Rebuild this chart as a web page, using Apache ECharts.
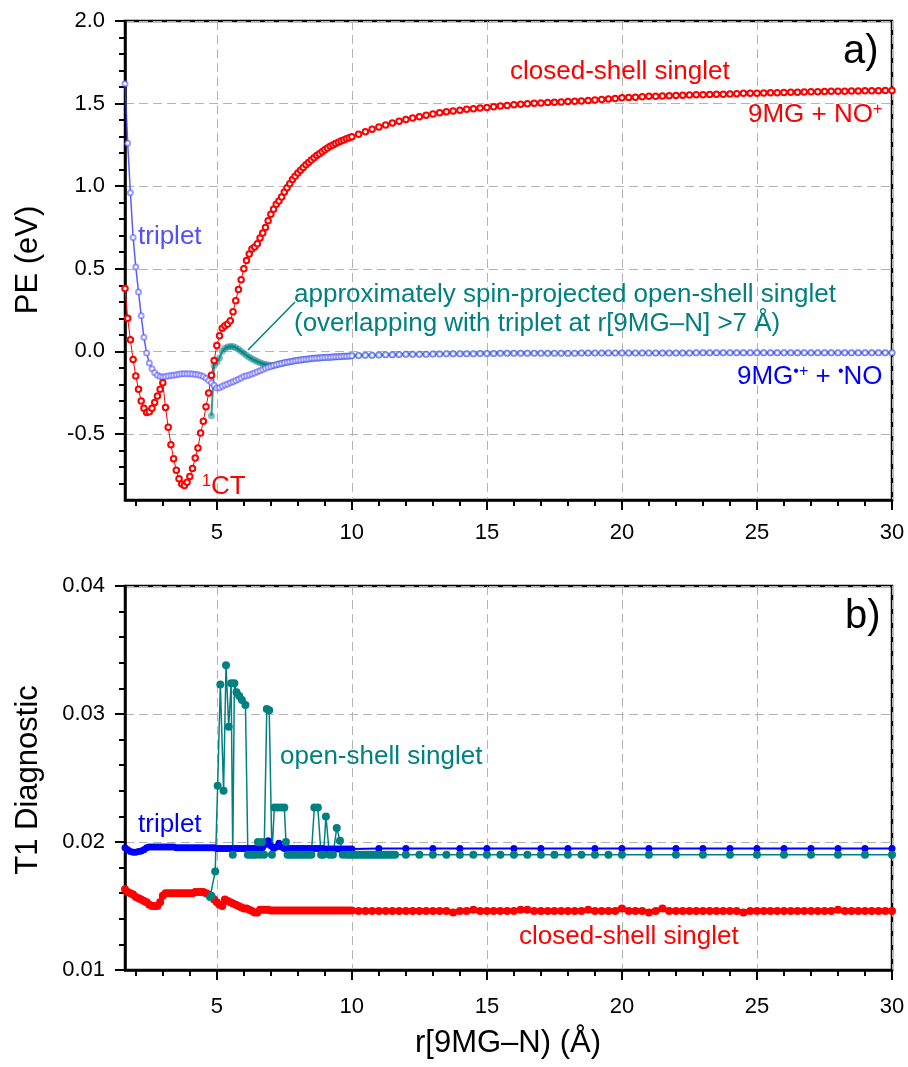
<!DOCTYPE html>
<html><head><meta charset="utf-8">
<script src="https://cdn.jsdelivr.net/npm/echarts@6/dist/echarts.min.js"></script>
<style>html,body{margin:0;padding:0;background:#fff}#c{width:908px;height:1067px}</style>
</head><body><div id="c"></div>
<script>
// r[9MG-N] grid (Å)
const rGrid = [1.6,1.7,1.8,1.9,
2.0,2.1,2.2,2.3,2.4,2.5,2.6,2.7,2.8,2.9,
3.0,3.1,3.2,3.3,3.4,3.5,3.6,3.7,3.8,3.9,
4.0,4.1,4.2,4.3,4.4,4.5,4.6,4.7,4.8,4.9,
5.0,5.1,5.2,5.3,5.4,5.5,5.6,5.7,5.8,5.9,
6.0,6.1,6.2,6.3,6.4,6.5,6.6,6.7,6.8,6.9,
7.0,7.1,7.2,7.3,7.4,7.5,7.6,7.7,7.8,7.9,
8.0,8.1,8.2,8.3,8.4,8.5,8.6,8.7,8.8,8.9,
9.0,9.1,9.2,9.3,9.4,9.5,9.6,9.7,9.8,9.9,
10.0,
10.25,10.5,10.75,11,11.25,11.5,11.75,12,12.25,12.5,12.75,13,13.25,13.5,13.75,14,
14.25,14.5,14.75,15,15.25,15.5,15.75,16,16.25,16.5,16.75,17,17.25,17.5,17.75,18,
18.25,18.5,18.75,19,19.25,19.5,19.75,20,20.25,20.5,20.75,21,21.25,21.5,21.75,22,
22.25,22.5,22.75,23,23.25,23.5,23.75,24,24.25,24.5,24.75,25,25.25,25.5,25.75,26,
26.25,26.5,26.75,27,27.25,27.5,27.75,28,28.25,28.5,28.75,29,29.25,29.5,29.75,30];

// a) potential energy (eV)
const peClosed = [0.38,0.20,0.07,-0.05,
-0.15,-0.23,-0.30,-0.345,-0.37,-0.365,-0.345,-0.31,-0.27,-0.23,
-0.19,-0.34,-0.46,-0.565,-0.65,-0.72,-0.772,-0.803,-0.812,-0.792,
-0.757,-0.71,-0.645,-0.585,-0.495,-0.423,-0.335,-0.252,-0.145,-0.055,
0.035,0.095,0.14,0.155,0.165,0.185,0.24,0.306,0.374,0.434,
0.50,0.55,0.59,0.62,0.632,0.652,0.686,0.716,0.75,0.79,
0.83,0.86,0.89,0.91,0.935,0.965,0.99,1.015,1.04,1.06,
1.08,1.097,1.113,1.129,1.144,1.158,1.172,1.185,1.197,1.209,
1.22,1.231,1.241,1.25,1.258,1.266,1.273,1.28,1.287,1.293,
1.299,
1.315,1.330,1.345,1.358,1.370,1.382,1.393,1.403,1.412,1.421,1.429,1.437,1.444,1.450,1.455,1.460,
1.465,1.469,1.473,1.477,1.481,1.485,1.489,1.493,1.496,1.499,1.502,1.504,1.506,1.508,1.510,1.512,
1.514,1.516,1.519,1.522,1.525,1.528,1.531,1.535,1.537,1.539,1.541,1.545,1.544,1.546,1.548,1.549,
1.551,1.552,1.553,1.554,1.555,1.556,1.557,1.558,1.559,1.562,1.562,1.563,1.564,1.565,1.566,1.567,
1.568,1.569,1.570,1.571,1.572,1.573,1.574,1.574,1.575,1.576,1.576,1.577,1.578,1.578,1.579,1.579];

const peTriplet = [1.62,1.26,0.96,0.69,
0.51,0.36,0.215,0.085,-0.01,-0.07,-0.105,-0.13,-0.145,-0.153,
-0.155,-0.152,-0.149,-0.146,-0.144,-0.141,-0.138,-0.136,-0.135,-0.135,
-0.136,-0.137,-0.139,-0.142,-0.146,-0.152,-0.163,-0.176,-0.19,-0.205,
-0.222,-0.22,-0.212,-0.204,-0.197,-0.19,-0.184,-0.177,-0.169,-0.161,
-0.153,-0.148,-0.143,-0.137,-0.131,-0.124,-0.117,-0.11,-0.103,-0.097,
-0.091,-0.086,-0.081,-0.077,-0.073,-0.069,-0.066,-0.063,-0.06,-0.057,
-0.054,-0.052,-0.05,-0.048,-0.046,-0.044,-0.042,-0.041,-0.04,-0.038,
-0.037,-0.036,-0.035,-0.034,-0.033,-0.032,-0.031,-0.03,-0.029,-0.028,
-0.027,
-0.025,-0.024,-0.023,-0.022,-0.021,-0.020,-0.019,-0.018,-0.018,-0.017,-0.017,-0.016,-0.016,-0.015,-0.015,-0.014,
-0.014,-0.014,-0.013,-0.013,-0.013,-0.012,-0.012,-0.012,-0.012,-0.011,-0.011,-0.011,-0.011,-0.011,-0.011,-0.011,
-0.011,-0.010,-0.010,-0.010,-0.010,-0.010,-0.010,-0.010,-0.010,-0.010,-0.010,-0.010,-0.010,-0.010,-0.010,-0.010,
-0.010,-0.010,-0.009,-0.009,-0.009,-0.009,-0.009,-0.009,-0.009,-0.009,-0.009,-0.009,-0.009,-0.009,-0.009,-0.009,
-0.009,-0.009,-0.008,-0.008,-0.008,-0.008,-0.008,-0.008,-0.008,-0.008,-0.008,-0.008,-0.008,-0.008,-0.008,-0.008];

const peOpen = [null,null,null,null,
null,null,null,null,null,null,null,null,null,null,
null,null,null,null,null,null,null,null,null,null,
null,null,null,null,null,null,null,null,-0.39,-0.085,
-0.065,-0.04,0.0,0.018,0.026,0.03,0.03,0.022,0.012,0.0,
-0.012,-0.024,-0.035,-0.045,-0.054,-0.062,-0.069,-0.075,-0.08,-0.083,
-0.086,-0.085,-0.081,-0.077,-0.073,-0.069,-0.066,-0.063,-0.06,-0.057,
-0.054,-0.052,-0.05,-0.048,-0.046,-0.044,-0.042,-0.041,-0.04,-0.038,
-0.037,-0.036,-0.035,-0.034,-0.033,-0.032,-0.031,-0.03,-0.029,-0.028,
-0.027,
-0.025,-0.024,-0.023,-0.022,-0.021,-0.020,-0.019,-0.018,-0.018,-0.017,-0.017,-0.016,-0.016,-0.015,-0.015,-0.014,
-0.014,-0.014,-0.013,-0.013,-0.013,-0.012,-0.012,-0.012,-0.012,-0.011,-0.011,-0.011,-0.011,-0.011,-0.011,-0.011,
-0.011,-0.010,-0.010,-0.010,-0.010,-0.010,-0.010,-0.010,-0.010,-0.010,-0.010,-0.010,-0.010,-0.010,-0.010,-0.010,
-0.010,-0.010,-0.009,-0.009,-0.009,-0.009,-0.009,-0.009,-0.009,-0.009,-0.009,-0.009,-0.009,-0.009,-0.009,-0.009,
-0.009,-0.009,-0.008,-0.008,-0.008,-0.008,-0.008,-0.008,-0.008,-0.008,-0.008,-0.008,-0.008,-0.008,-0.008,-0.008];

// b) T1 diagnostic
const t1Closed = [0.0163,0.0161,0.0160,0.0159,
0.0157,0.0156,0.0155,0.0154,0.0153,0.0151,0.0150,0.0150,0.0150,0.0153,
0.0158,0.0160,0.0160,0.0160,0.0160,0.0160,0.0160,0.0160,0.0160,0.0160,
0.0160,0.0160,0.0161,0.0161,0.0161,0.0161,0.0160,0.0159,0.0157,0.0155,
0.0153,0.0151,0.0150,0.0155,0.0154,0.0153,0.0152,0.0151,0.0150,0.0149,
0.0148,0.0148,0.0147,0.0146,0.0145,0.0145,0.0147,0.0147,0.0147,0.0147,
0.01465,0.01465,0.01465,0.01465,0.01465,0.01465,0.01465,0.01465,0.01465,0.01465,
0.01465,0.01465,0.01465,0.01465,0.01465,0.01465,0.01465,0.01465,0.01465,0.01465,
0.01465,0.01465,0.01465,0.01465,0.01465,0.01465,0.01465,0.01465,0.01465,0.01465,
0.01465,
0.0146,0.0146,0.0146,0.0146,0.0146,0.0146,0.0146,0.0146,0.0146,0.0146,0.0146,0.0146,0.0146,0.0146,0.0145,0.0146,
0.0146,0.0147,0.0146,0.0146,0.0146,0.0146,0.0146,0.0146,0.0147,0.0147,0.0146,0.0146,0.0146,0.0146,0.0146,0.0146,
0.0146,0.0146,0.0147,0.0146,0.0146,0.0146,0.0146,0.0148,0.0146,0.0146,0.0146,0.0145,0.0146,0.0148,0.0146,0.0146,
0.0146,0.0146,0.0146,0.0146,0.0146,0.0146,0.0146,0.0146,0.0146,0.0145,0.0146,0.0146,0.0146,0.0146,0.0146,0.0146,
0.0146,0.0146,0.0146,0.0146,0.0146,0.0146,0.0146,0.0147,0.0146,0.0146,0.0146,0.0146,0.0146,0.0146,0.0146,0.0146];

const t1Triplet = [0.01955,0.0194,0.01925,0.0192,
0.0192,0.01925,0.0193,0.0194,0.01955,0.0196,0.0196,0.0196,0.0196,0.0196,
0.0196,0.0196,0.0196,0.0196,0.0196,0.01955,0.01955,0.01955,0.01955,0.01955,
0.01955,0.01955,0.01955,0.01955,0.01955,0.01955,0.01955,0.01955,0.01955,0.01955,
0.0195,0.0195,0.0195,0.0195,0.0195,0.0195,0.0195,0.0195,0.0195,0.0195,
0.0195,0.0195,0.0195,0.0195,0.0195,0.0195,0.0195,0.0196,0.0198,0.0201,
0.0197,0.0195,0.0196,0.0199,0.0196,0.0195,0.0195,0.0195,0.0195,0.0195,
0.0195,0.0195,0.0195,0.0195,0.0195,0.0195,0.0195,0.0195,0.0195,0.0195,
0.01945,0.01945,0.01945,0.01945,0.01945,0.01945,0.01945,0.01945,0.01945,0.01945,
0.01945,
null,null,null,0.0195,null,null,null,0.0195,null,null,null,0.0195,null,null,null,0.0195,
null,null,null,0.0195,null,null,null,0.0195,null,null,null,0.0195,null,null,null,0.0195,
null,null,null,0.0195,null,null,null,0.0195,null,null,null,0.0195,null,null,null,0.0195,
null,null,null,0.0195,null,null,null,0.0195,null,null,null,0.0195,null,null,null,0.0195,
null,null,null,0.0195,null,null,null,0.0195,null,null,null,0.0195,null,null,null,0.0195];

const t1OpenR = [4.75,4.8,4.94,5.03,5.13,5.25,5.34,5.44,5.53,5.59,5.65,5.73,5.83,5.93,6.06,
6.15,6.25,6.35,6.45,6.52,6.6,6.67,6.75,6.85,6.94,7.04,7.13,7.25,7.38,7.5,7.56,7.62,
7.7,7.8,7.9,8.0,8.1,8.2,8.3,8.4,8.5,8.61,8.74,8.86,8.95,9.04,9.17,9.3,9.44,9.56,9.66,
9.8,9.9,10.0,10.1,10.2,10.3,10.4,10.5,10.6,10.7,10.8,10.9,11.0,11.1,11.2,11.3,11.4,11.5,11.6,
12,12.5,13,13.5,14,14.5,15,15.5,16,16.5,17,17.5,18,18.5,19,19.5,20,
21,22,23,24,25,26,27,28,29,30];
const t1OpenV = [0.0157,0.0158,0.0177,0.0244,0.0323,0.0240,0.0338,0.0290,0.0324,0.0190,0.0324,0.0317,0.0314,0.0311,0.0307,
0.0190,0.0190,0.0190,0.0190,0.0200,0.0190,0.0200,0.0190,0.0304,0.0303,0.0190,0.0227,0.0227,0.0227,0.0227,0.0200,0.0190,
0.0190,0.0190,0.0190,0.0190,0.0190,0.0190,0.0190,0.0190,0.0190,0.0227,0.0227,0.0190,0.0190,0.0220,0.0190,0.0190,0.0211,0.0201,0.0190,
0.0190,0.0190,0.0190,0.0190,0.0190,0.0190,0.0190,0.0190,0.0190,0.0190,0.0190,0.0190,0.0190,0.0190,0.0190,0.0190,0.0190,0.0190,0.0190,
0.0190,0.0190,0.0190,0.0190,0.0190,0.0190,0.0190,0.0190,0.0190,0.0190,0.0190,0.0190,0.0190,0.0190,0.0190,0.0190,0.0190,
0.0190,0.0190,0.0190,0.0190,0.0190,0.0190,0.0190,0.0190,0.0190,0.0190];

// ticks
const xMajor = [5,10,15,20,25,30];
const xMinor = [2,3,4,6,7,8,9,11,12,13,14,16,17,18,19,21,22,23,24,26,27,28,29];
const peMajor = [-0.5,0,0.5,1,1.5,2];
const peMinor = [-0.8,-0.7,-0.6,-0.4,-0.3,-0.2,-0.1,0.1,0.2,0.3,0.4,0.6,0.7,0.8,0.9,1.1,1.2,1.3,1.4,1.6,1.7,1.8,1.9];
const t1Major = [0.01,0.02,0.03,0.04];
const t1Minor = [0.012,0.014,0.016,0.018,0.022,0.024,0.026,0.028,0.032,0.034,0.036,0.038];

const FF = '"Liberation Sans", Arial, Helvetica, sans-serif';
const RED = '#ff0000', BLUE = '#0000ff', TEAL = '#008080';

function pairs(xs, ys) {
  const out = [];
  for (let i = 0; i < xs.length; i++) if (ys[i] !== null && ys[i] !== undefined) out.push([xs[i], ys[i]]);
  return out;
}

function majorX(grid, margin) {
  return {
    type: 'value', gridIndex: grid, min: 1.6, max: 30, position: 'bottom',
    axisLine: { show: true, onZero: false, lineStyle: { color: '#000', width: 2.5 } },
    axisTick: { show: true, customValues: xMajor, length: 10, lineStyle: { color: '#000', width: 2 } },
    axisLabel: { show: true, customValues: xMajor, fontSize: 22, fontFamily: FF, color: '#000', margin: margin,
                 formatter: v => String(v) },
    splitLine: { show: true, lineStyle: { color: '#b4b4b4', width: 1, type: [9, 5] } }
  };
}
function minorX(grid) {
  return {
    type: 'value', gridIndex: grid, min: 1.6, max: 30, position: 'bottom',
    axisLine: { show: false, onZero: false },
    axisTick: { show: true, customValues: xMinor, length: 6, lineStyle: { color: '#000', width: 2 } },
    axisLabel: { show: false }, splitLine: { show: false }
  };
}
function majorY(grid, min, max, ticks, dec) {
  return {
    type: 'value', gridIndex: grid, min: min, max: max, position: 'left',
    axisLine: { show: true, onZero: false, lineStyle: { color: '#000', width: 2.5 } },
    axisTick: { show: true, customValues: ticks, length: 10, lineStyle: { color: '#000', width: 2 } },
    axisLabel: { show: true, customValues: ticks, fontSize: 22, fontFamily: FF, color: '#000', margin: 20,
                 formatter: v => Number(v).toFixed(dec) },
    splitLine: { show: true, lineStyle: { color: '#b4b4b4', width: 1, type: [9, 5] } }
  };
}
function minorY(grid, min, max, ticks) {
  return {
    type: 'value', gridIndex: grid, min: min, max: max, position: 'left',
    axisLine: { show: false, onZero: false },
    axisTick: { show: true, customValues: ticks, length: 6, lineStyle: { color: '#000', width: 2 } },
    axisLabel: { show: false }, splitLine: { show: false }
  };
}

function txt(x, y, text, color, size, extra) {
  return {
    type: 'text', x: x, y: y, z: 100,
    style: Object.assign({
      text: text, fill: color, font: size + 'px ' + FF,
      align: 'left', verticalAlign: 'middle', textAlign: 'left', textVerticalAlign: 'middle'
    }, extra || {})
  };
}
function supRich(color) {
  return { sup: { font: '16px ' + FF, fill: color, lineHeight: 6, verticalAlign: 'top' } };
}

const chart = echarts.init(document.getElementById('c'), null, { renderer: 'canvas' });
const graphics = [
  txt(510, 72, 'closed-shell singlet', RED, 26),
  txt(748, 115, '9MG + NO{sup|+}', RED, 26, { lineHeight: 26, rich: supRich(RED) }),
  txt(138, 237, 'triplet', '#5050ff', 26),
  txt(294, 309.5, 'approximately spin-projected open-shell singlet\n(overlapping with triplet at r[9MG\u2013N] >7 \u00C5)', TEAL, 26, { lineHeight: 29 }),
  { type: 'line', z: 100, shape: { x1: 295, y1: 302, x2: 248, y2: 350 }, style: { stroke: TEAL, lineWidth: 1.5 } },
  txt(737, 377, '9MG{sup|\u2022+} + {sup|\u2022}NO', BLUE, 26, { lineHeight: 26, rich: supRich(BLUE) }),
  txt(202, 487, '{sup|1}CT', RED, 26, { lineHeight: 26, rich: supRich(RED) }),
  txt(843, 52, 'a)', '#000', 40),
  txt(845, 617, 'b)', '#000', 40),
  txt(280, 757, 'open-shell singlet', TEAL, 26),
  txt(138, 825, 'triplet', BLUE, 26),
  txt(519, 937, 'closed-shell singlet', RED, 26)
];
const titles = [
  Object.assign(txt(28, 260, 'PE (eV)', '#000', 31, { align: 'center', textAlign: 'center' }), { rotation: Math.PI / 2 }),
  Object.assign(txt(28, 780, 'T1 Diagnostic', '#000', 31, { align: 'center', textAlign: 'center' }), { rotation: Math.PI / 2 }),
  txt(508, 1043, 'r[9MG\u2013N) (\u00C5)', '#000', 31, { align: 'center', textAlign: 'center' })
];

chart.setOption({
  animation: false,
  backgroundColor: '#fff',
  grid: [
    { left: 125, top: 21, width: 767, height: 479, show: true, borderColor: '#000', borderWidth: 2.5, backgroundColor: 'transparent' },
    { left: 125, top: 586, width: 767, height: 384, show: true, borderColor: '#000', borderWidth: 2.5, backgroundColor: 'transparent' }
  ],
  xAxis: [majorX(0, 22), minorX(0), majorX(1, 26), minorX(1)],
  yAxis: [
    majorY(0, -0.9, 2.0, peMajor, 1), minorY(0, -0.9, 2.0, peMinor),
    majorY(1, 0.01, 0.04, t1Major, 2), minorY(1, 0.01, 0.04, t1Minor)
  ],
  series: [
    { type: 'line', xAxisIndex: 0, yAxisIndex: 0, data: pairs(rGrid, peOpen),
      symbol: 'circle', symbolSize: 7, itemStyle: { color: 'rgba(0,128,128,0.5)' },
      lineStyle: { color: 'rgba(0,128,128,0.8)', width: 2 } },
    { type: 'line', xAxisIndex: 0, yAxisIndex: 0, data: pairs(rGrid, peTriplet),
      symbol: 'emptyCircle', symbolSize: 5, itemStyle: { color: 'rgba(90,90,255,0.6)', borderWidth: 1 },
      lineStyle: { color: 'rgba(50,50,255,0.8)', width: 1.5 } },
    { type: 'line', xAxisIndex: 0, yAxisIndex: 0, data: pairs(rGrid, peClosed),
      symbol: 'emptyCircle', symbolSize: 5.5, itemStyle: { color: RED, borderWidth: 1 },
      lineStyle: { color: RED, width: 1 } },
    { type: 'line', xAxisIndex: 2, yAxisIndex: 2, data: pairs(rGrid, t1Triplet),
      symbol: 'circle', symbolSize: 7, itemStyle: { color: BLUE },
      lineStyle: { color: BLUE, width: 2 } },
    { type: 'line', xAxisIndex: 2, yAxisIndex: 2, data: pairs(rGrid, t1Closed),
      symbol: 'circle', symbolSize: 8, itemStyle: { color: RED },
      lineStyle: { color: RED, width: 5 } },
    { type: 'line', xAxisIndex: 2, yAxisIndex: 2, data: pairs(t1OpenR, t1OpenV),
      symbol: 'circle', symbolSize: 8, itemStyle: { color: TEAL },
      lineStyle: { color: TEAL, width: 1.5 } }
  ],
  graphic: graphics.concat(titles)
});
</script>
</body></html>
